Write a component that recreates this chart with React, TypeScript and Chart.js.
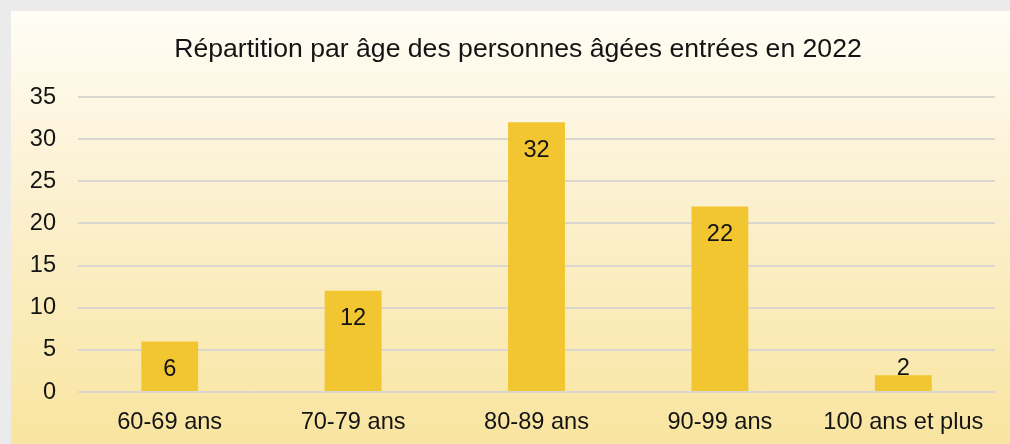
import React, { useEffect, useRef } from "react";
import { Chart, registerables } from "chart.js";

Chart.register(...registerables);

const TITLE = "Répartition par âge des personnes âgées entrées en 2022";
const categories = ["60-69 ans", "70-79 ans", "80-89 ans", "90-99 ans", "100 ans et plus"];
const values = [6, 12, 32, 22, 2];
const yMin = 0;
const yMax = 35;
const yStep = 5;

const FONT = "'Liberation Sans', Arial, sans-serif";
const TEXT = "#141414";
const BAR = "#f2c631";

const titlePlugin = {
  id: "customTitle",
  afterDraw(chart: any) {
    const ctx = chart.ctx;
    ctx.save();
    ctx.font = `26.6px ${FONT}`;
    ctx.fillStyle = TEXT;
    ctx.textAlign = "center";
    ctx.textBaseline = "alphabetic";
    ctx.fillText(TITLE, 507, 46);
    ctx.restore();
  },
};

const labelPlugin = {
  id: "barLabels",
  afterDatasetsDraw(chart: any) {
    const ctx = chart.ctx;
    const meta = chart.getDatasetMeta(0);
    ctx.save();
    ctx.font = `23.6px ${FONT}`;
    ctx.fillStyle = TEXT;
    ctx.textAlign = "center";
    ctx.textBaseline = "alphabetic";
    meta.data.forEach((el: any, i: number) => {
      const h = el.base - el.y;
      const y = h > 30 ? el.y + 34.5 : el.y;
      ctx.fillText(String(values[i]), el.x, y);
    });
    ctx.restore();
  },
};

export default function App() {
  const ref = useRef<HTMLCanvasElement>(null);
  useEffect(() => {
    if (!ref.current) return;
    const chart = new Chart(ref.current, {
      type: "bar",
      data: {
        labels: categories,
        datasets: [
          {
            data: values,
            backgroundColor: BAR,
            borderWidth: 0,
            categoryPercentage: 0.62,
            barPercentage: 0.5,
          },
        ],
      },
      options: {
        responsive: false,
        animation: false,
        layout: { padding: { left: 0, right: 15, top: 86, bottom: 0 } },
        plugins: {
          legend: { display: false },
          title: { display: false },
          tooltip: { enabled: false },
        },
        scales: {
          x: {
            grid: { display: false, drawTicks: false },
            border: { display: false },
            ticks: { color: TEXT, font: { family: FONT, size: 23.6 }, padding: 16 },
            afterFit: (s: any) => {
              s.height = 52;
            },
          },
          y: {
            min: yMin,
            max: yMax,
            grid: { color: "#d9d7cf", lineWidth: 2, drawTicks: false },
            border: { display: false },
            ticks: { stepSize: yStep, color: TEXT, font: { family: FONT, size: 23.6 }, padding: 22 },
            afterFit: (s: any) => {
              s.width = 67;
            },
          },
        },
      },
      plugins: [labelPlugin, titlePlugin],
    });
    return () => chart.destroy();
  }, []);
  return (
    <div style={{ position: "fixed", left: 0, top: 0, width: 1010, height: 444, background: "#ebebeb" }}>
      <div
        style={{
          position: "absolute",
          left: 11,
          top: 11,
          width: 999,
          height: 433,
          background: "linear-gradient(to bottom, #fffdf6 0%, #fcf1d2 40%, #f9e5a0 100%)",
        }}
      >
        <canvas ref={ref} width={999} height={433} style={{ display: "block" }} />
      </div>
    </div>
  );
}
